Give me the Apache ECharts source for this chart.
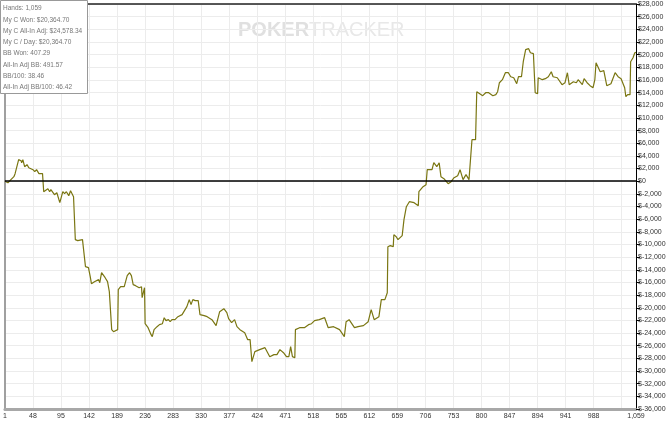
<!DOCTYPE html>
<html>
<head>
<meta charset="utf-8">
<script src="https://cdn.jsdelivr.net/npm/echarts@6/dist/echarts.min.js"></script>
<style>
html,body{margin:0;padding:0;background:#fff;}
#chart{width:670px;height:422px;}
</style>
</head>
<body>
<div id="chart"></div>
<script>
// Hand numbers (1-based) and cumulative winnings
const hands = [1,6,8,11,16,18,21,24,28,29,31,34,38,41,44,48,51,54,58,61,64,66,69,73,76,78,81,84,88,93,98,101,104,108,111,116,118,
119,123,126,131,134,136,141,144,146,151,154,158,160,163,166,169,173,176,180,183,186,190,191,195,198,201,206,210,213,216,220,223,226,230,231,235,
236,241,246,248,251,256,260,265,268,271,275,278,281,286,291,298,301,306,310,313,316,320,325,328,335,340,343,348,351,355,361,368,373,376,381,386,
390,395,403,408,412,415,420,428,437,445,452,457,462,468,473,477,480,483,487,488,495,498,503,510,515,520,528,537,543,552,562,570,573,578,587,593,
602,610,615,620,628,632,638,642,643,647,652,653,657,660,667,670,674,679,687,694,695,702,707,709,712,717,720,725,729,732,737,744,749,754,760,764,
769,774,779,782,784,790,792,795,802,807,812,819,824,827,830,835,840,845,849,854,859,862,867,870,874,879,882,887,890,894,895,902,907,912,917,920,
927,935,940,944,947,954,959,962,969,972,977,982,987,990,992,995,999,1005,1010,1017,1024,1029,1034,1037,1040,1042,1045,1049,1050,1054,1057,1059];
const winnings = [0,-240,-400,240,710,1190,1500,3400,3240,2920,3400,2290,2610,2130,2290,1820,1500,1820,1190,1500,1190,-1660,-1660,-1190,-1660,-1340,-1190,-2130,-1820,-3400,-1660,-1980,-1660,-2290,-1500,-2450,-2450,
-9240,-9400,-9090,-9240,-8930,-13510,-13670,-15090,-16200,-15880,-16040,-15560,-16040,-14460,-14300,-15250,-15880,-17460,-23460,-23780,-23780,-23460,-17140,-16670,-16510,-16670,-14930,-14460,-14930,-16350,-16510,-16510,-16830,-16670,-18410,-16830,
-22520,-23150,-24250,-24570,-23460,-22990,-22670,-22520,-21570,-22040,-21880,-22200,-21880,-21880,-21410,-21090,-20940,-19830,-18720,-19510,-18720,-18880,-18880,-21090,-21250,-21410,-21410,-21880,-21880,-22830,-20620,-20150,-20780,-21730,-22360,-21880,
-22990,-23460,-23940,-25040,-25040,-28520,-26940,-26620,-26310,-27730,-27410,-27410,-26620,-27100,-27730,-27730,-26150,-27730,-27890,-23460,-23150,-23150,-23150,-22670,-22520,-22040,-21880,-21570,-23150,-22990,-23460,-24570,-22200,-21880,-23150,-22990,
-22830,-22200,-20300,-21880,-21410,-18720,-18720,-17620,-10350,-10190,-10350,-8450,-8770,-9240,-8610,-6080,-4030,-3240,-3400,-3870,-1660,-870,-550,1820,2130,1820,2920,2290,2920,710,400,-400,-80,550,870,1820,
240,1030,240,550,6560,6560,14140,14140,13510,13980,13980,13510,13670,14140,15560,16040,17140,17140,16510,16350,15410,16510,16510,18880,20780,20940,20300,20150,13980,13830,16350,16040,16200,16510,17300,16510,
16350,15250,15560,17140,15250,15720,15560,16040,15250,16200,15560,15090,14770,16040,18720,18720,17300,17460,15090,15410,17140,16510,16200,16040,14770,13350,13670,13670,18880,19510,20300,20365];

const yTicksMin = -36000, yTicksMax = 28000, yStep = 2000;
const xStep = 47;

const infoLines = [
  'Hands: 1,059',
  'My C Won: $20,364.70',
  'My C All-In Adj: $24,578.34',
  'My C / Day: $20,364.70',
  'BB Won: 407.29',
  'All-In Adj BB: 491.57',
  'BB/100: 38.46',
  'All-In Adj BB/100: 46.42'
];

const chart = echarts.init(document.getElementById('chart'), null, {renderer:'canvas'});
const lastHand = hands[hands.length-1];
const fmtNum = v => v.toLocaleString('en-US');
const seriesData = hands.map((h,i) => [h-1, winnings[i]]);

const infoTexts = infoLines.map((t,i) => ({
  type:'text', x: 3, y: 5 + i*11.3, z: 20,
  style:{text:t, fontSize:6.5, fontFamily:'Liberation Sans, Arial, sans-serif', fill:'#777'}
}));

chart.setOption({
  animation:false,
  backgroundColor:'#fff',
  grid:{left:1,right:34,top:4,bottom:13,containLabel:false},
  xAxis:[{
    type:'value', min:0, max:lastHand-1, interval:xStep, position:'bottom',
    axisLine:{show:true,onZero:false,lineStyle:{color:'#a8a8a8',width:3}},
    axisTick:{show:false},
    axisLabel:{fontSize:7,color:'#333',margin:4,fontFamily:'Liberation Sans, Arial, sans-serif',
      formatter:v => (v!==lastHand-1 && v > lastHand-1-xStep) ? '' : fmtNum(v+1)},
    splitLine:{show:true,lineStyle:{color:'#ececec',width:1}}
  },{
    type:'value', min:0, max:lastHand-1, position:'top',
    axisLine:{show:true,onZero:false,lineStyle:{color:'#222',width:1.5}},
    axisTick:{show:false}, axisLabel:{show:false}, splitLine:{show:false}
  }],
  yAxis:[{
    type:'value', min:yTicksMin, max:yTicksMax, interval:yStep, position:'right',
    axisLine:{show:true,onZero:false,lineStyle:{color:'#000',width:1}},
    axisTick:{show:true,length:4,lineStyle:{color:'#000'}},
    axisLabel:{fontSize:7,color:'#333',margin:2,fontFamily:'Liberation Sans, Arial, sans-serif',
      formatter:v => '$' + fmtNum(v)},
    splitLine:{show:true,lineStyle:{color:'#ececec',width:1}}
  },{
    type:'value', min:yTicksMin, max:yTicksMax, position:'left',
    axisLine:{show:true,onZero:false,lineStyle:{color:'#a0a0a0',width:2}},
    axisTick:{show:false}, axisLabel:{show:false}, splitLine:{show:false}
  }],
  series:[{
    type:'line', xAxisIndex:0, yAxisIndex:0, data:seriesData,
    showSymbol:false, symbol:'none', smooth:false,
    lineStyle:{color:'#7a7612',width:1.2},
    markLine:{silent:true,symbol:['none','none'],label:{show:false},
      lineStyle:{color:'#000',type:'solid',width:1.5},
      data:[{yAxis:0}]}
  }],
  graphic:[
    {type:'text', left:238, top:20, z:0,
      style:{text:'POKER', fontSize:20, fontWeight:'bold', fontFamily:'Liberation Sans, Arial, sans-serif', fill:'#e0e0e0'}},
    {type:'text', left:309, top:20, z:0,
      style:{text:'TRACKER', fontSize:20, fontFamily:'Liberation Sans, Arial, sans-serif', fill:'#e8e8e8'}},
    {type:'rect', left:0, top:0, z:10,
      shape:{x:0,y:0,width:87,height:93},
      style:{fill:'#fff',stroke:'#999',lineWidth:1}}
  ].concat(infoTexts)
});
</script>
</body>
</html>
